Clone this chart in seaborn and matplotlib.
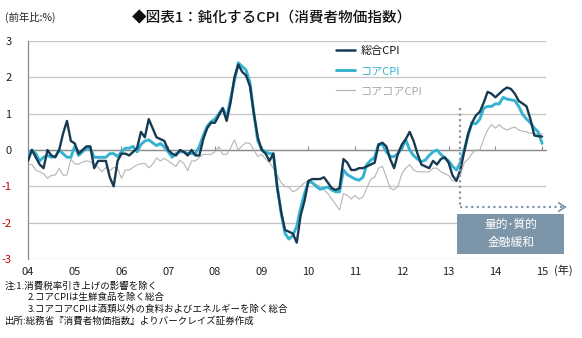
import numpy as np
import pandas as pd
import matplotlib
matplotlib.use("Agg")
import matplotlib.pyplot as plt
from matplotlib.lines import Line2D
from matplotlib.patches import Rectangle
import seaborn as sns

# ---------------- data (YoY %, Jan 2004 - Jan 2015) ----------------
year_labels = ["04", "05", "06", "07", "08", "09", "10", "11", "12", "13", "14", "15"]
series_names = ["総合CPI", "コアCPI", "コアコアCPI"]

headline = [
    -0.3, 0.0, -0.2, -0.4, -0.5, 0.0, -0.15, -0.2, 0.0, 0.45, 0.8, 0.25,      # 2004
    0.18, -0.1, 0.0, 0.1, 0.1, -0.5, -0.3, -0.3, -0.3, -0.75, -1.0, -0.3,     # 2005
    -0.1, -0.1, -0.15, -0.05, 0.05, 0.5, 0.35, 0.85, 0.6, 0.35, 0.3, 0.25,    # 2006
    0.0, -0.1, -0.15, 0.0, -0.05, -0.15, 0.0, -0.15, -0.15, 0.3, 0.6, 0.75,   # 2007
    0.75, 0.95, 1.15, 0.8, 1.3, 2.0, 2.35, 2.15, 2.05, 1.75, 1.0, 0.35,       # 2008
    0.0, -0.1, -0.3, -0.1, -1.05, -1.7, -2.2, -2.25, -2.3, -2.55, -1.8, -1.4, # 2009
    -0.85, -0.8, -0.8, -0.8, -0.75, -0.9, -1.05, -1.1, -1.05, -0.25, -0.35, -0.55,  # 2010
    -0.55, -0.5, -0.5, -0.45, -0.4, -0.35, 0.15, 0.2, 0.1, -0.25, -0.5, -0.1,  # 2011
    0.15, 0.3, 0.5, 0.25, -0.1, -0.4, -0.45, -0.5, -0.3, -0.4, -0.25, -0.2,   # 2012
    -0.35, -0.7, -0.85, -0.55, -0.05, 0.45, 0.75, 0.95, 1.05, 1.3, 1.6, 1.55, # 2013
    1.45, 1.55, 1.65, 1.72, 1.68, 1.55, 1.35, 1.28, 1.2, 0.85, 0.4, 0.38,     # 2014
    0.37,                                                                     # 2015
]

core = [
    -0.15, 0.0, -0.1, -0.3, -0.2, -0.15, -0.2, -0.18, 0.0, -0.1, -0.2, -0.2,
    0.1, -0.15, -0.05, 0.05, 0.05, -0.2, -0.2, -0.2, -0.2, -0.1, -0.1, -0.18,
    -0.05, 0.05, 0.05, 0.1, -0.05, 0.15, 0.25, 0.28, 0.2, 0.12, 0.18, 0.08,
    -0.05, -0.2, -0.1, -0.05, -0.05, -0.1, -0.1, -0.1, 0.1, 0.4, 0.65, 0.78,
    0.85, 1.0, 1.15, 0.9, 1.4, 1.9, 2.4, 2.3, 2.2, 1.85, 1.0, 0.25,
    0.02, -0.05, -0.1, -0.1, -1.0, -1.75, -2.3, -2.45, -2.35, -2.1, -1.6, -1.2,
    -0.87, -0.9, -1.0, -1.08, -1.05, -1.02, -1.1, -1.15, -1.15, -0.55, -0.68, -0.74,
    -0.8, -0.83, -0.75, -0.4, -0.28, -0.2, 0.15, 0.15, -0.05, -0.18, -0.18, -0.1,
    0.05, 0.28, 0.0, -0.15, -0.25, -0.32, -0.28, -0.15, -0.05, 0.0, -0.12, -0.22,
    -0.3, -0.45, -0.55, -0.35, 0.0, 0.4, 0.75, 0.72, 0.85, 1.15, 1.2, 1.2,
    1.27, 1.27, 1.45, 1.4, 1.38, 1.36, 1.2, 0.98, 0.85, 0.75, 0.6, 0.5,
    0.18,
]

core_core = [
    -0.4, -0.4, -0.55, -0.6, -0.65, -0.78, -0.7, -0.69, -0.51, -0.69, -0.69, -0.25,
    -0.38, -0.39, -0.33, -0.3, -0.32, -0.41, -0.48, -0.6, -0.48, -0.57, -0.48, -0.5,
    -0.78, -0.55, -0.55, -0.48, -0.41, -0.38, -0.37, -0.49, -0.39, -0.22, -0.3, -0.23,
    -0.3, -0.38, -0.45, -0.28, -0.37, -0.57, -0.3, -0.3, -0.2, -0.12, -0.12, -0.12,
    -0.05, 0.09, -0.12, -0.12, 0.05, 0.28, 0.0, 0.12, 0.2, 0.18, 0.0, -0.18,
    -0.12, -0.25, -0.35, -0.5, -0.7, -0.9, -1.0, -1.02, -1.15, -1.1, -1.0, -0.9,
    -0.85, -0.9, -0.95, -1.0, -1.1, -1.2, -1.35, -1.5, -1.65, -1.2, -1.25, -1.35,
    -1.25, -1.35, -1.3, -1.05, -0.8, -0.75, -0.5, -0.45, -0.75, -1.05, -1.1, -1.0,
    -0.65, -0.5, -0.4, -0.55, -0.6, -0.6, -0.6, -0.6, -0.5, -0.5, -0.6, -0.65,
    -0.7, -0.85, -0.85, -0.7, -0.35, -0.25, -0.1, 0.0, 0.0, 0.3, 0.55, 0.7,
    0.6, 0.7, 0.6, 0.55, 0.6, 0.63, 0.55, 0.52, 0.5, 0.46, 0.46, 0.44,
    0.44,
]

y_ticks = [-3, -2, -1, 0, 1, 2, 3]
qqe_month = 111          # April 2013 (months since Jan 2004)
qqe_label = "量的･質的\n金融緩和"
notes = [
    "注:1.消費税率引き上げの影響を除く",
    "2.コアCPIは生鮮食品を除く総合",
    "3.コアコアCPIは酒類以外の食料およびエネルギーを除く総合",
    "出所:総務省『消費者物価指数』よりバークレイズ証券作成",
]

# ---------------- build table ----------------
month_idx = np.arange(len(headline))
df = pd.DataFrame({"month": month_idx, "headline": headline,
                   "core": core, "core_core": core_core})

# ---------------- style ----------------
sns.set_style("white")
plt.rcParams["font.family"] = ["Noto Sans CJK JP", "DejaVu Sans"]
plt.rcParams["axes.unicode_minus"] = False

c_head = "#173A52"
c_core = "#35B3D1"
c_cc = "#B5B5B5"
grid_c = "#C4C4C4"
axis_c = "#8C8C8C"

W, H = 582, 338
fig = plt.figure(figsize=(W / 100, H / 100), dpi=100)
ax = fig.add_axes([28 / W, 1 - 259 / H, (546 - 28) / W, (259 - 41) / H])

ax.set_xlim(0, 133)
ax.set_ylim(-3, 3)

# grid
for yv in y_ticks:
    ax.axhline(yv, color=axis_c if yv == 0 else grid_c, lw=0.9, zorder=0.5)

sns.lineplot(data=df, x="month", y="core_core", ax=ax, color=c_cc, lw=0.8, zorder=2)
sns.lineplot(data=df, x="month", y="core", ax=ax, color=c_core, lw=2.1, zorder=3)
sns.lineplot(data=df, x="month", y="headline", ax=ax, color=c_head, lw=1.7, zorder=4)
ax.set_xlabel("")
ax.set_ylabel("")

# spines
for s in ["top", "right", "bottom"]:
    ax.spines[s].set_visible(False)
ax.spines["left"].set_color(axis_c)
ax.spines["left"].set_linewidth(0.9)

# y ticks
ax.set_yticks(y_ticks)
ax.set_yticklabels([str(v) for v in y_ticks])
ax.tick_params(axis="y", length=4, width=0.9, color=axis_c, pad=8, labelsize=8)
for lab, v in zip(ax.get_yticklabels(), y_ticks):
    lab.set_color("#C00000" if v < 0 else "#222222")

# x ticks (year labels at bottom)
year_pos = np.arange(0, len(headline), 12)
ax.set_xticks(year_pos)
ax.set_xticklabels(year_labels)
ax.tick_params(axis="x", length=0, pad=6, labelsize=8, labelcolor="#222222")
fig.text(563 / W, 1 - 270 / H, "(年)", fontsize=8, ha="center", va="center", color="#222222")

# small category ticks on the zero line
sec = ax.secondary_xaxis(0.5)
sec.set_xticks(year_pos)
sec.tick_params(axis="x", direction="out", length=3, width=0.8, color=axis_c,
                labeltop=False, labelbottom=False)
for sp in sec.spines.values():
    sp.set_color(axis_c)
    sp.set_linewidth(0.9)

# QQE annotation
dot_c = "#8496A8"
ax.plot([qqe_month, qqe_month], [1.16, -1.57], ls=(0, (1, 1.5)), color=dot_c, lw=1.6,
        zorder=5, clip_on=False)
ax.plot([qqe_month, 138.2], [-1.57, -1.57], ls=(0, (1, 1.5)), color=dot_c, lw=1.6,
        zorder=5, clip_on=False)
ax.annotate("", xy=(139.0, -1.57), xytext=(137.0, -1.57),
            arrowprops=dict(arrowstyle="->,head_length=0.45,head_width=0.3", color=dot_c, lw=1.3),
            annotation_clip=False, zorder=5)
ax.add_patch(Rectangle((110.2, -2.86), 27.4, 1.09, facecolor="#7D95A8", edgecolor="none",
                       zorder=6, clip_on=False))
ax.text(123.9, -2.31, qqe_label, color="white", ha="center", va="center", fontsize=8.5,
        linespacing=1.45, zorder=7, clip_on=False)

# legend
handles = [Line2D([], [], color=c_head, lw=1.8),
           Line2D([], [], color=c_core, lw=2.1),
           Line2D([], [], color=c_cc, lw=0.9)]
leg = fig.legend(handles, series_names, loc="upper left",
                 bbox_to_anchor=(336 / W, 1 - 46 / H), frameon=False, fontsize=8,
                 handlelength=1.7, handletextpad=0.5, labelspacing=0.9,
                 borderpad=0, borderaxespad=0)
for t, c in zip(leg.get_texts(), ["#111111", c_core, "#A8A8A8"]):
    t.set_color(c)

# titles
fig.text(5 / W, 1 - 17 / H, "(前年比:%)", fontsize=7.5, ha="left", va="center", color="#222222")
fig.text(272 / W, 1 - 18 / H, "◆図表1：鈍化するCPI（消費者物価指数）", fontsize=10.5,
         ha="center", va="center", color="#111111", fontweight="medium")

# notes
note_x = [5, 28, 28, 5]
note_y = [286, 297.5, 309, 320.5]
for txt, nx, ny in zip(notes, note_x, note_y):
    fig.text(nx / W, 1 - ny / H, txt, fontsize=6.8, ha="left", va="center", color="#111111")

fig.savefig("out.png", dpi=100)
